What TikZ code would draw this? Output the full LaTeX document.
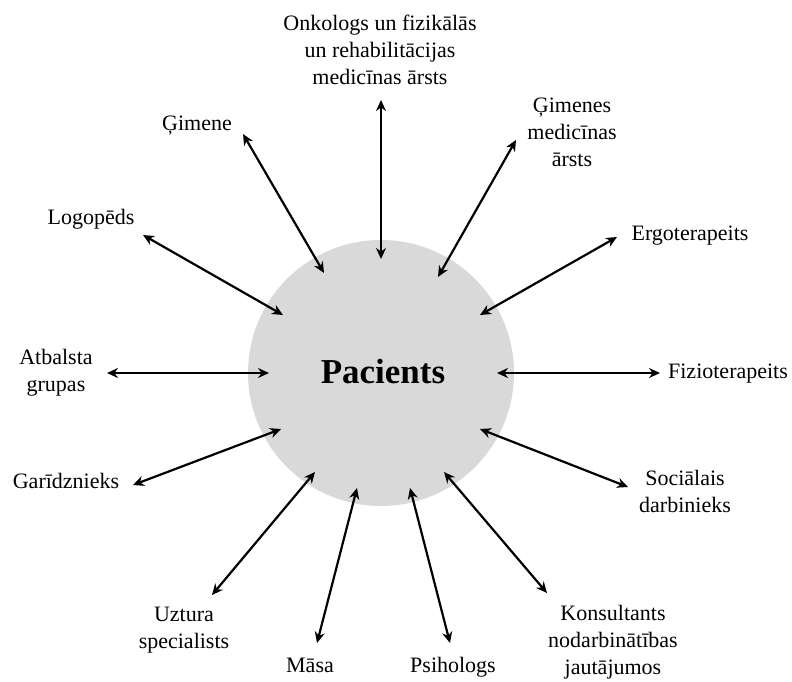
\documentclass[tikz,border=0pt]{standalone}
\usepackage{fontspec}
\setmainfont{Liberation Serif}
\usetikzlibrary{arrows.meta}
\definecolor{circgray}{HTML}{D9D9D9}
\tikzset{
  lbl/.style={inner sep=0pt, align=center, font=\fontsize{22}{27}\selectfont},
  link/.style={line width=2.2pt, {Stealth[length=11pt,width=10pt]}-{Stealth[length=11pt,width=10pt]}},
}
\begin{document}
\begin{tikzpicture}[x=1pt,y=-1pt]
\useasboundingbox (0,0) rectangle (792,681);
\fill[white] (0,0) rectangle (792,681);
\node[circle, fill=circgray, minimum size=266pt, inner sep=0pt] (p) at (381,373) {};
\node[anchor=base, inner sep=0pt, font=\fontsize{35}{40}\selectfont\bfseries] (pt) at (383,383) {Pacients};

% labels
\node[lbl] (l1) at (380,50) {Onkologs un fizikālās\\un rehabilitācijas\\medicīnas ārsts};
\node[lbl] (l2) at (572,132) {Ģimenes\\medicīnas\\ārsts};
\node[lbl, anchor=base] (l3) at (690,240) {Ergoterapeits};
\node[lbl, anchor=base] (l4) at (728,378) {Fizioterapeits};
\node[lbl] (l5) at (685,491) {Sociālais\\darbinieks};
\node[lbl] (l6) at (613,642) {Konsultants\\nodarbinātības\\jautājumos};
\node[lbl, anchor=base] (l7) at (453,672) {Psihologs};
\node[lbl, anchor=base] (l8) at (310,672) {Māsa};
\node[lbl] (l9) at (184,630) {Uztura\\specialists};
\node[lbl, anchor=base] (l10) at (66,488) {Garīdznieks};
\node[lbl] (l11) at (56,373) {Atbalsta\\grupas};
\node[lbl, anchor=base] (l12) at (91,224) {Logopēds};
\node[lbl, anchor=base] (l13) at (197,130) {Ģimene};

% arrow ends
\coordinate (o1) at (381,100);  \coordinate (i1) at (381,259);
\coordinate (o2) at (516,140);  \coordinate (i2) at (438,277);
\coordinate (o3) at (617,237);  \coordinate (i3) at (480,315);
\coordinate (o4) at (660,373);  \coordinate (i4) at (497,373);
\coordinate (o5) at (628,487);  \coordinate (i5) at (480,429);
\coordinate (o6) at (547,593);  \coordinate (i6) at (444,472);
\coordinate (o7) at (450,643);  \coordinate (i7) at (410,488);
\coordinate (o8) at (317,643);  \coordinate (i8) at (357,488);
\coordinate (o9) at (212,595);  \coordinate (i9) at (315,472);
\coordinate (o10) at (133,485); \coordinate (i10) at (281,429);
\coordinate (o11) at (107,373); \coordinate (i11) at (269,373);
\coordinate (o12) at (143,235); \coordinate (i12) at (283,315);
\coordinate (o13) at (243,134); \coordinate (i13) at (324,273);

\foreach \k in {1,...,13} {
  \draw[link] (o\k) -- (i\k);
}
\end{tikzpicture}
\end{document}
